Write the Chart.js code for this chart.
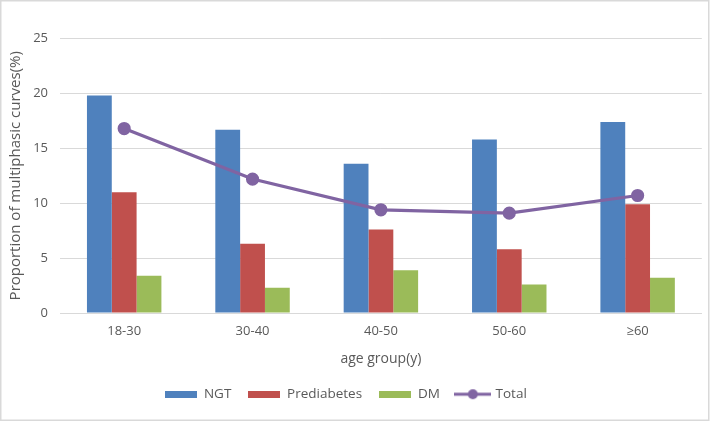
<!DOCTYPE html>
<html>
<head>
<meta charset="utf-8">
<script src="https://cdn.jsdelivr.net/npm/chart.js@4/dist/chart.umd.min.js"></script>
<style>
  html, body { margin: 0; padding: 0; background: #fff; }
  #wrap { width: 710px; height: 421px; }
</style>
</head>
<body>
<div id="wrap"><canvas id="ageChart" width="710" height="421"></canvas></div>
<script>
// age groups and proportions (%)
const ageGroups = ['18-30', '30-40', '40-50', '50-60', '\u226560'];
const ngtValues = [19.8, 16.7, 13.6, 15.8, 17.4];
const prediabetesValues = [11.0, 6.3, 7.6, 5.8, 9.9];
const dmValues = [3.4, 2.3, 3.9, 2.6, 3.2];
const totalValues = [16.8, 12.2, 9.4, 9.1, 10.7];
const yTicks = [0, 5, 10, 15, 20, 25];

const FONT = '"Open Sans", "DejaVu Sans", sans-serif';
const TXT = '#595959';

// legend markers as small canvases
function boxMarker(color) {
    const c = document.createElement('canvas');
    c.width = 32; c.height = 7;
    const g = c.getContext('2d');
    g.fillStyle = color;
    g.fillRect(0, 0, 32, 7);
    return c;
}
function lineMarker(color) {
    const c = document.createElement('canvas');
    c.width = 37; c.height = 12;
    const g = c.getContext('2d');
    g.strokeStyle = color;
    g.lineWidth = 3;
    g.beginPath(); g.moveTo(0, 6); g.lineTo(37, 6); g.stroke();
    g.fillStyle = color;
    g.beginPath(); g.arc(18.5, 6, 5, 0, Math.PI * 2); g.fill();
    return c;
}

// light frame round the whole picture, legend nudged a little left
const framePlugin = {
    id: 'frame',
    afterLayout(chart) {
        chart.legend.left -= 10;
        chart.legend.right -= 10;
    },
    afterDraw(chart) {
        const ctx = chart.ctx;
        ctx.save();
        ctx.strokeStyle = '#d9d9d9';
        ctx.lineWidth = 1.5;
        ctx.strokeRect(0.75, 0.75, chart.width - 2, chart.height - 1.5);
        ctx.restore();
    }
};

const ctx = document.getElementById('ageChart').getContext('2d');
new Chart(ctx, {
    type: 'bar',
    data: {
        labels: ageGroups,
        datasets: [
            { label: 'NGT', data: ngtValues, backgroundColor: '#4F81BD', marker: boxMarker('#4F81BD') },
            { label: 'Prediabetes', data: prediabetesValues, backgroundColor: '#C0504D', marker: boxMarker('#C0504D') },
            { label: 'DM', data: dmValues, backgroundColor: '#9BBB59', marker: boxMarker('#9BBB59') },
            {
                type: 'line', label: 'Total', data: totalValues, order: -1,
                borderColor: '#8064A2', backgroundColor: '#8064A2', borderWidth: 3.2,
                pointRadius: 5, pointHoverRadius: 5, tension: 0,
                marker: lineMarker('#8064A2')
            }
        ]
    },
    options: {
        responsive: false,
        animation: false,
        devicePixelRatio: 1,
        layout: { padding: { top: 38.5, left: 4, right: 2, bottom: 10 } },
        datasets: { bar: { categoryPercentage: 0.58, barPercentage: 1.0 } },
        plugins: {
            tooltip: { enabled: false },
            legend: {
                position: 'bottom',
                labels: {
                    usePointStyle: true,
                    pointStyleWidth: 32,
                    padding: 17,
                    color: TXT,
                    font: { family: FONT, size: 13.5 },
                    generateLabels(chart) {
                        return chart.data.datasets.map((ds, i) => ({
                            text: ds.label,
                            pointStyle: ds.marker,
                            fillStyle: ds.backgroundColor,
                            strokeStyle: ds.backgroundColor,
                            lineWidth: 0,
                            fontColor: TXT,
                            datasetIndex: i
                        }));
                    }
                }
            }
        },
        scales: {
            x: {
                grid: { display: false, drawTicks: false },
                border: { color: '#d9d9d9', width: 1 },
                ticks: { color: TXT, font: { family: FONT, size: 13 }, padding: 10 },
                title: {
                    display: true, text: 'age group(y)', color: TXT,
                    font: { family: FONT, size: 14 }, padding: { top: 6, bottom: 3 }
                },
                afterFit(scale) { scale.height = 57.5; }
            },
            y: {
                min: 0, max: 25,
                afterBuildTicks(scale) { scale.ticks = yTicks.map(v => ({ value: v })); },
                grid: { color: '#d9d9d9', drawTicks: false },
                border: { display: false },
                ticks: { color: TXT, font: { family: FONT, size: 13 }, padding: 12 },
                title: {
                    display: true, text: 'Proportion of multiphasic curves(%)', color: TXT,
                    font: { family: FONT, size: 15 }, padding: { top: 2.5, bottom: 4 }
                },
                afterFit(scale) { scale.width = 56; }
            }
        }
    },
    plugins: [framePlugin]
});
</script>
</body>
</html>
